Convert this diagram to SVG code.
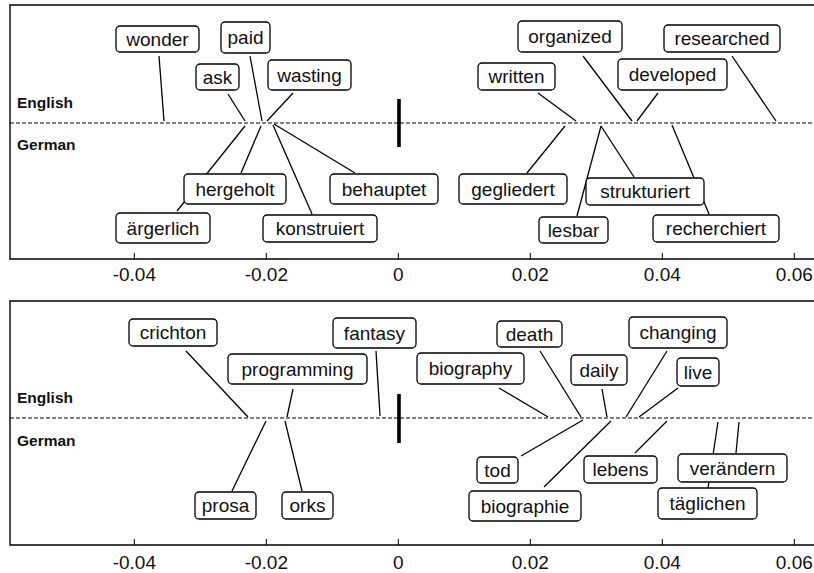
<svg xmlns="http://www.w3.org/2000/svg" width="814" height="573" viewBox="0 0 814 573">
<style>
.frame{fill:none;stroke:#000;stroke-width:1.4}
.dash{fill:none;stroke:#000;stroke-width:1.2;stroke-dasharray:4 2}
.bar{stroke:#000;stroke-width:3.6}
.tick{stroke:#000;stroke-width:1}
.c line{stroke:#000;stroke-width:1.3}
.n rect{fill:#fff;stroke:#000;stroke-width:1.3}
.n text{font-family:"Liberation Sans",Arial,sans-serif;font-size:19px;text-anchor:middle;fill:#111}
.ax{font-family:"Liberation Sans",Arial,sans-serif;font-size:19px;text-anchor:middle;fill:#111}
.lang{font-family:"Liberation Sans",Arial,sans-serif;font-size:15.5px;font-weight:bold;fill:#111}
</style>
<rect width="814" height="573" fill="#fff"/>
<!-- panel frames -->
<path class="frame" d="M 820 5 H 10 V 259 H 820"/>
<path class="frame" d="M 820 301 H 10 V 545 H 820"/>
<g id="axis-top">
<line class="tick" x1="134.3" y1="253" x2="134.3" y2="259"/>
<line class="tick" x1="266.3" y1="253" x2="266.3" y2="259"/>
<line class="tick" x1="398.3" y1="253" x2="398.3" y2="259"/>
<line class="tick" x1="530.3" y1="253" x2="530.3" y2="259"/>
<line class="tick" x1="662.3" y1="253" x2="662.3" y2="259"/>
<line class="tick" x1="794.3" y1="253" x2="794.3" y2="259"/>
<text class="ax" x="134.3" y="281">-0.04</text>
<text class="ax" x="266.3" y="281">-0.02</text>
<text class="ax" x="398.3" y="281">0</text>
<text class="ax" x="530.3" y="281">0.02</text>
<text class="ax" x="662.3" y="281">0.04</text>
<text class="ax" x="794.3" y="281">0.06</text>
</g>
<g id="axis-bottom">
<line class="tick" x1="134.3" y1="539" x2="134.3" y2="545"/>
<line class="tick" x1="266.3" y1="539" x2="266.3" y2="545"/>
<line class="tick" x1="398.3" y1="539" x2="398.3" y2="545"/>
<line class="tick" x1="530.3" y1="539" x2="530.3" y2="545"/>
<line class="tick" x1="662.3" y1="539" x2="662.3" y2="545"/>
<line class="tick" x1="794.3" y1="539" x2="794.3" y2="545"/>
<text class="ax" x="134.3" y="569">-0.04</text>
<text class="ax" x="266.3" y="569">-0.02</text>
<text class="ax" x="398.3" y="569">0</text>
<text class="ax" x="530.3" y="569">0.02</text>
<text class="ax" x="662.3" y="569">0.04</text>
<text class="ax" x="794.3" y="569">0.06</text>
</g>
<g id="baselines">
<line class="dash" x1="10" y1="123" x2="814" y2="123"/>
<line class="bar" x1="399" y1="99" x2="399" y2="147"/>
<text class="lang" x="17" y="108">English</text>
<text class="lang" x="17" y="150">German</text>
<line class="dash" x1="10" y1="418" x2="814" y2="418"/>
<line class="bar" x1="399" y1="394" x2="399" y2="443"/>
<text class="lang" x="17" y="403">English</text>
<text class="lang" x="17" y="446">German</text>
</g>
<g id="connectors" class="c">
<line x1="159" y1="56" x2="164" y2="121"/>
<line x1="250" y1="56" x2="262" y2="121"/>
<line x1="228" y1="94" x2="245" y2="121"/>
<line x1="293" y1="93" x2="267" y2="121"/>
<line x1="241" y1="173" x2="261" y2="126"/>
<line x1="177" y1="211" x2="245" y2="126"/>
<line x1="355" y1="173" x2="274" y2="124"/>
<line x1="312" y1="214" x2="273" y2="125"/>
<line x1="583" y1="56" x2="632" y2="121"/>
<line x1="732" y1="56" x2="776" y2="121"/>
<line x1="538" y1="93" x2="576" y2="121"/>
<line x1="658" y1="93" x2="637" y2="121"/>
<line x1="527" y1="173" x2="565" y2="126"/>
<line x1="634" y1="177" x2="601" y2="126"/>
<line x1="577" y1="216" x2="601" y2="126"/>
<line x1="709" y1="214" x2="672" y2="125"/>
<line x1="186" y1="351" x2="248" y2="417"/>
<line x1="293" y1="389" x2="287" y2="417"/>
<line x1="376" y1="351" x2="380" y2="416"/>
<line x1="232" y1="491" x2="266" y2="421"/>
<line x1="302" y1="491" x2="285" y2="421"/>
<line x1="540" y1="351" x2="581" y2="417"/>
<line x1="499" y1="388" x2="548" y2="417"/>
<line x1="602" y1="389" x2="607" y2="417"/>
<line x1="667" y1="351" x2="626" y2="417"/>
<line x1="678" y1="388" x2="639" y2="417"/>
<line x1="521" y1="456" x2="583" y2="420"/>
<line x1="544" y1="487" x2="611" y2="421"/>
<line x1="635" y1="453" x2="667" y2="421"/>
<line x1="736" y1="453" x2="739" y2="422"/>
<line x1="708" y1="488" x2="718" y2="422"/>
</g>
<g id="wonder" class="n"><rect x="116" y="26" width="83" height="26" rx="4"/><text x="157.5" y="45.8">wonder</text></g>
<g id="paid" class="n"><rect x="221" y="22" width="49" height="31" rx="4"/><text x="245.5" y="44.3">paid</text></g>
<g id="ask" class="n"><rect x="196" y="64" width="43" height="26" rx="4"/><text x="217.5" y="83.8">ask</text></g>
<g id="wasting" class="n"><rect x="268" y="60" width="83" height="30" rx="4"/><text x="309.5" y="81.8">wasting</text></g>
<g id="organized" class="n"><rect x="518" y="21" width="104" height="31" rx="4"/><text x="570" y="43.3">organized</text></g>
<g id="researched" class="n"><rect x="664" y="25" width="116" height="27" rx="4"/><text x="722" y="45.3">researched</text></g>
<g id="written" class="n"><rect x="478" y="63" width="77" height="27" rx="4"/><text x="516.5" y="83.3">written</text></g>
<g id="developed" class="n"><rect x="618" y="59" width="109" height="31" rx="4"/><text x="672.5" y="81.3">developed</text></g>
<g id="hergeholt" class="n"><rect x="184" y="174" width="102" height="30" rx="4"/><text x="235" y="195.8">hergeholt</text></g>
<g id="aergerlich" class="n"><rect x="116" y="213" width="94" height="30" rx="4"/><text x="163" y="234.8">ärgerlich</text></g>
<g id="behauptet" class="n"><rect x="330" y="174" width="108" height="30" rx="4"/><text x="384" y="195.8">behauptet</text></g>
<g id="konstruiert" class="n"><rect x="263" y="215" width="114" height="27" rx="4"/><text x="320" y="235.3">konstruiert</text></g>
<g id="gegliedert" class="n"><rect x="459" y="174" width="108" height="30" rx="4"/><text x="513" y="195.8">gegliedert</text></g>
<g id="strukturiert" class="n"><rect x="586" y="178" width="118" height="27" rx="4"/><text x="645" y="198.3">strukturiert</text></g>
<g id="lesbar" class="n"><rect x="539" y="217" width="69" height="26" rx="4"/><text x="573.5" y="236.8">lesbar</text></g>
<g id="recherchiert" class="n"><rect x="653" y="215" width="126" height="27" rx="4"/><text x="716" y="235.3">recherchiert</text></g>
<g id="crichton" class="n"><rect x="129" y="319" width="88" height="27" rx="4"/><text x="173" y="339.3">crichton</text></g>
<g id="programming" class="n"><rect x="228" y="354" width="139" height="30" rx="4"/><text x="297.5" y="375.8">programming</text></g>
<g id="fantasy" class="n"><rect x="333" y="318" width="83" height="30" rx="4"/><text x="374.5" y="339.8">fantasy</text></g>
<g id="prosa" class="n"><rect x="195" y="492" width="61" height="27" rx="4"/><text x="225.5" y="512.3">prosa</text></g>
<g id="orks" class="n"><rect x="282" y="492" width="51" height="27" rx="4"/><text x="307.5" y="512.3">orks</text></g>
<g id="death" class="n"><rect x="497" y="321" width="65" height="26" rx="4"/><text x="529.5" y="340.8">death</text></g>
<g id="biography" class="n"><rect x="417" y="353" width="107" height="31" rx="4"/><text x="470.5" y="375.3">biography</text></g>
<g id="daily" class="n"><rect x="571" y="355" width="56" height="30" rx="4"/><text x="599" y="376.8">daily</text></g>
<g id="changing" class="n"><rect x="629" y="317" width="98" height="31" rx="4"/><text x="678" y="339.3">changing</text></g>
<g id="live" class="n"><rect x="677" y="358" width="42" height="28" rx="4"/><text x="698" y="378.8">live</text></g>
<g id="tod" class="n"><rect x="477" y="457" width="41" height="26" rx="4"/><text x="497.5" y="476.8">tod</text></g>
<g id="biographie" class="n"><rect x="469" y="491" width="112" height="30" rx="4"/><text x="525" y="512.8">biographie</text></g>
<g id="lebens" class="n"><rect x="584" y="456" width="73" height="27" rx="4"/><text x="620.5" y="476.3">lebens</text></g>
<g id="veraendern" class="n"><rect x="678" y="454" width="109" height="28" rx="4"/><text x="732.5" y="474.8">verändern</text></g>
<g id="taeglichen" class="n"><rect x="658" y="488" width="99" height="31" rx="4"/><text x="707.5" y="510.3">täglichen</text></g>
</svg>
